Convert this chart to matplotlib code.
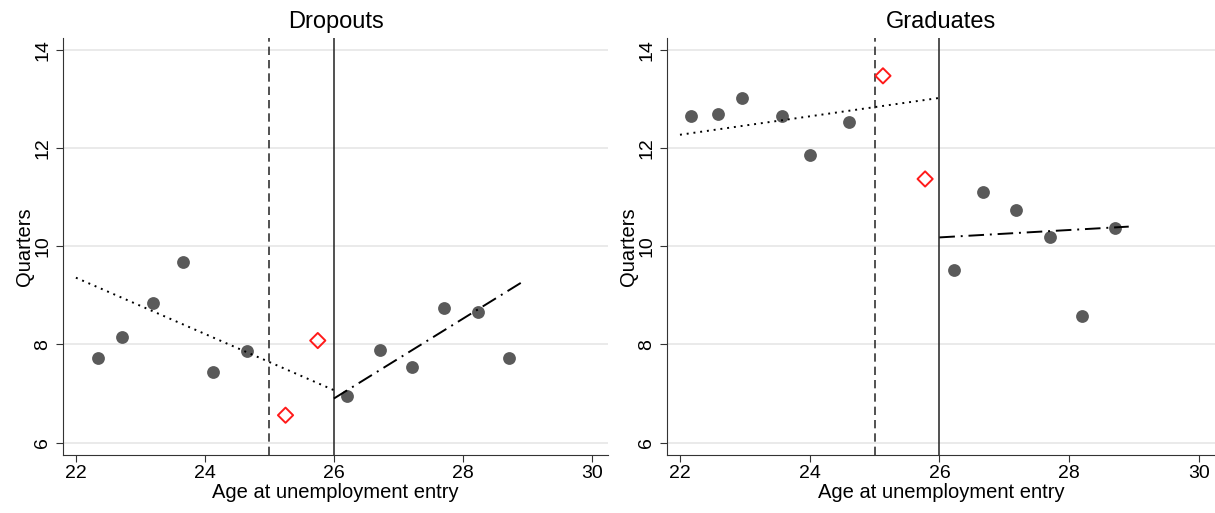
import numpy as np
import matplotlib.pyplot as plt

plt.rcParams['font.family'] = ['Liberation Sans', 'DejaVu Sans']

# Dropouts: binned means
drop_x_left = [22.35, 22.72, 23.19, 23.66, 24.12, 24.66]
drop_y_left = [7.72, 8.16, 8.85, 9.67, 7.45, 7.87]
drop_x_right = [26.20, 26.71, 27.21, 27.71, 28.23, 28.72]
drop_y_right = [6.95, 7.89, 7.55, 8.75, 8.66, 7.73]
drop_x_donut = [25.25, 25.75]
drop_y_donut = [6.56, 8.08]
drop_fit_left = ([22.0, 26.0], [9.36, 7.07])
drop_fit_right = ([26.0, 28.93], [6.90, 9.28])

# Graduates: binned means
grad_x_left = [22.17, 22.58, 22.96, 23.57, 24.00, 24.60]
grad_y_left = [12.66, 12.70, 13.01, 12.66, 11.85, 12.52]
grad_x_right = [26.22, 26.68, 27.18, 27.71, 28.20, 28.71]
grad_y_right = [9.51, 11.11, 10.73, 10.18, 8.58, 10.37]
grad_x_donut = [25.13, 25.78]
grad_y_donut = [13.47, 11.37]
grad_fit_left = ([22.0, 26.0], [12.27, 13.02])
grad_fit_right = ([26.0, 28.92], [10.18, 10.40])

x_ticks = [22, 24, 26, 28, 30]
y_ticks = [6, 8, 10, 12, 14]

panels = [
    ("Dropouts", drop_x_left, drop_y_left, drop_x_right, drop_y_right,
     drop_x_donut, drop_y_donut, drop_fit_left, drop_fit_right),
    ("Graduates", grad_x_left, grad_y_left, grad_x_right, grad_y_right,
     grad_x_donut, grad_y_donut, grad_fit_left, grad_fit_right),
]

fig = plt.figure(figsize=(12.15, 5.13), dpi=100)
boxes = [[63 / 1215, 58 / 513, 545 / 1215, 417 / 513],
         [667 / 1215, 58 / 513, 548 / 1215, 417 / 513]]

dot_col = '#5a5a5a'
line_col = '#333333'

for box, p in zip(boxes, panels):
    title, xl, yl, xr, yr, xd, yd, fl, fr = p
    ax = fig.add_axes(box)
    for t in y_ticks:
        ax.axhline(t, color='#e8e8e8', lw=1.3, zorder=0)
    ax.axvline(25, color=line_col, lw=1.2, ls=(0, (5, 3)), zorder=1)
    ax.axvline(26, color=line_col, lw=1.2, zorder=1)
    ax.scatter(xl, yl, s=85, color=dot_col, zorder=3, linewidths=0)
    ax.scatter(xr, yr, s=85, color=dot_col, zorder=3, linewidths=0)
    ax.scatter(xd, yd, s=60, marker='D', facecolors='none',
               edgecolors='#ff1a1a', linewidths=1.4, zorder=3)
    ax.plot(fl[0], fl[1], color='black', lw=1.4, ls=(0, (1, 2.5)), zorder=4)
    ax.plot(fr[0], fr[1], color='black', lw=1.4, ls=(0, (8, 3, 1, 3)), zorder=4)

    ax.set_xlim(21.8, 30.25)
    ax.set_ylim(5.75, 14.24)
    ax.set_xticks(x_ticks)
    ax.set_yticks(y_ticks)
    ax.tick_params(axis='both', labelsize=14, length=5, color='#333333')
    ax.tick_params(axis='x', pad=2)
    for lab in ax.get_yticklabels():
        lab.set_rotation(90)
        lab.set_va('center')
    ax.spines['top'].set_visible(False)
    ax.spines['right'].set_visible(False)
    ax.spines['left'].set_color('#333333')
    ax.spines['bottom'].set_color('#333333')
    ax.set_xlabel('Age at unemployment entry', fontsize=14.5, labelpad=1)
    ax.set_ylabel('Quarters', fontsize=14.5, labelpad=0)
    ax.set_title(title, fontsize=17, pad=7)

fig.savefig('out.png', dpi=100)
